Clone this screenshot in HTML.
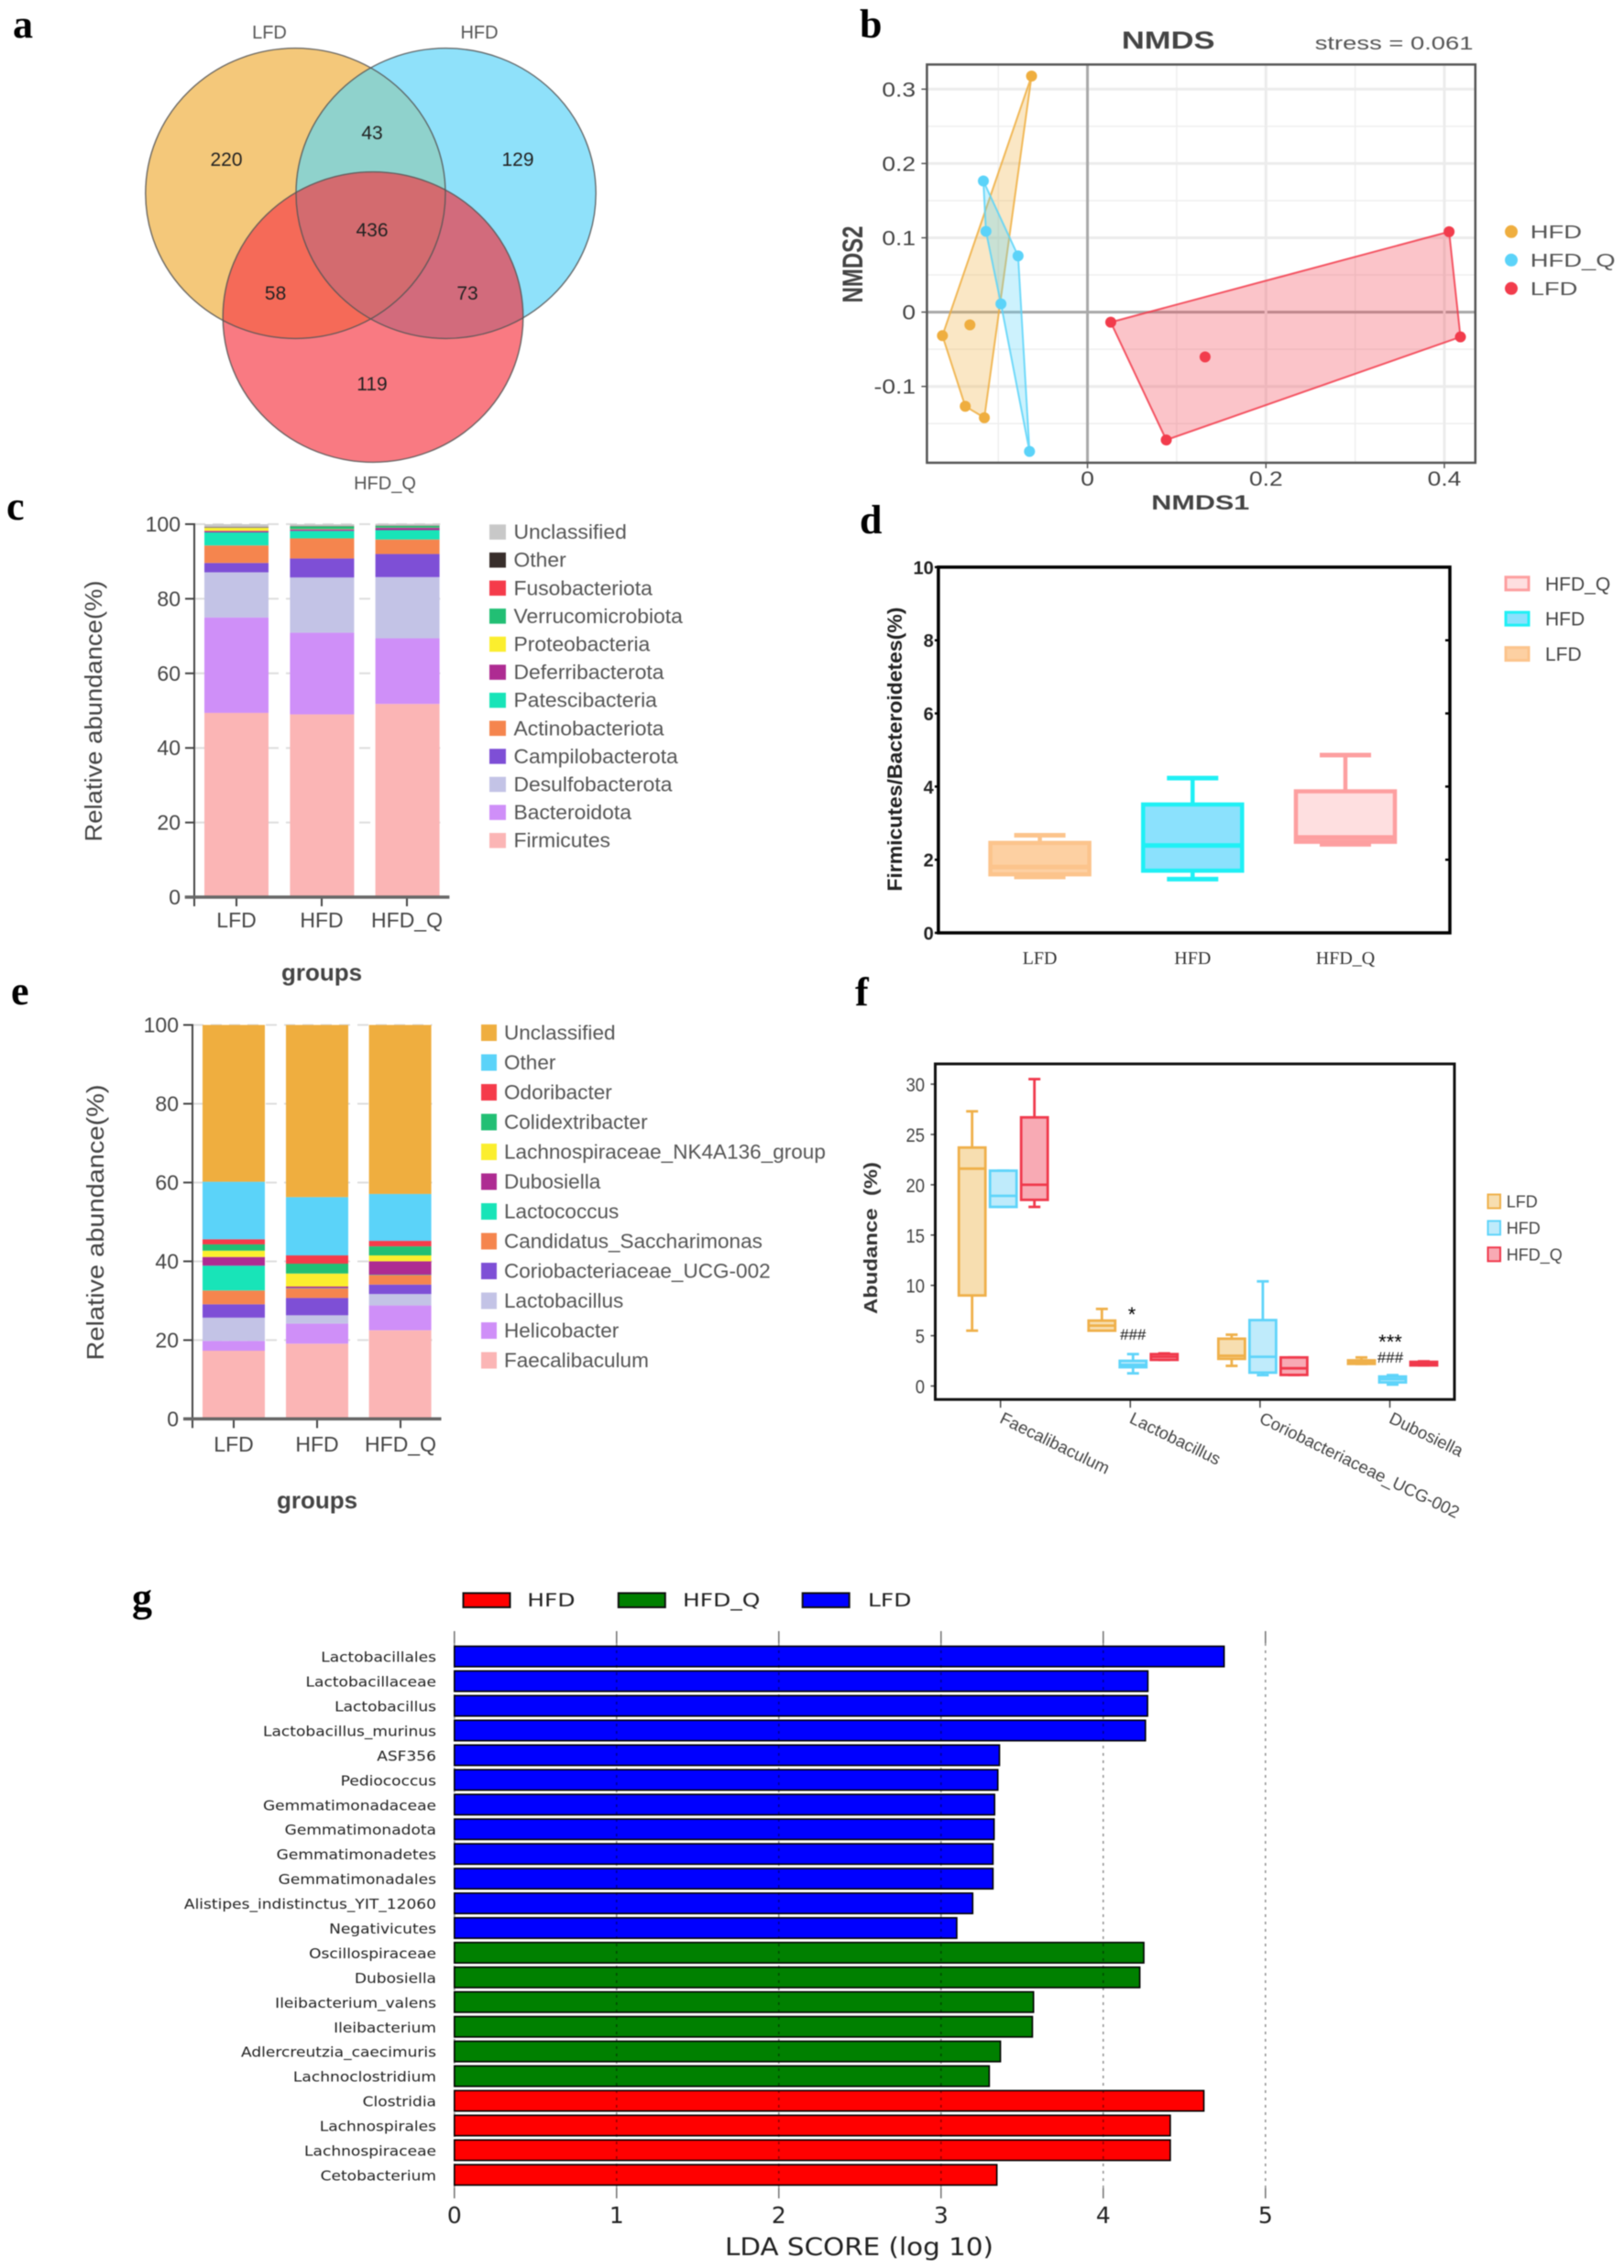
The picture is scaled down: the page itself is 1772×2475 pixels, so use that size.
<!DOCTYPE html>
<html lang="en">
<head>
<meta charset="utf-8">
<title>Gut microbiota figure</title>
<style>
html,body{margin:0;padding:0;background:#fff;}
svg{display:block;filter:blur(0.5px);}
text{font-family:"Liberation Sans",sans-serif;white-space:pre;}
.letter{font-family:"Liberation Serif",serif;font-weight:bold;font-size:44px;fill:#000;}
.venn{font-size:21px;fill:#222;text-anchor:middle;}
.vennh{font-size:20px;fill:#555;text-anchor:middle;}
.axt{font-size:26px;fill:#444;text-anchor:middle;}
.bt{font-weight:bold;}
</style>
</head>
<body>
<svg id="fig" xmlns="http://www.w3.org/2000/svg" width="1772" height="2475" viewBox="0 0 1772 2475">
<rect width="1772" height="2475" fill="#fff"/>
<defs>
<clipPath id="cl"><ellipse cx="322.4" cy="211" rx="163.6" ry="158.4"/></clipPath>
<clipPath id="ch"><ellipse cx="486.6" cy="211" rx="163.6" ry="158.4"/></clipPath>
<clipPath id="cq"><ellipse cx="407" cy="346" rx="163.8" ry="158.4"/></clipPath>
</defs>

<text class="letter" x="14" y="41">a</text>
<text class="letter" x="938" y="41">b</text>
<text class="letter" x="7" y="567">c</text>
<text class="letter" x="938" y="582">d</text>
<text class="letter" x="12" y="1096">e</text>
<text class="letter" x="933" y="1097">f</text>
<text class="letter" x="144" y="1758">g</text>

<g id="venn">
<ellipse cx="322.4" cy="211" rx="163.6" ry="158.4" fill="#f4c87a"/>
<ellipse cx="486.6" cy="211" rx="163.6" ry="158.4" fill="#8fe1fa"/>
<ellipse cx="407" cy="346" rx="163.8" ry="158.4" fill="#f97a82"/>
<g clip-path="url(#cl)"><ellipse cx="486.6" cy="211" rx="163.6" ry="158.4" fill="#8fd2cc"/></g>
<g clip-path="url(#cl)"><ellipse cx="407" cy="346" rx="163.8" ry="158.4" fill="#f56a58"/></g>
<g clip-path="url(#ch)"><ellipse cx="407" cy="346" rx="163.8" ry="158.4" fill="#d26b7c"/></g>
<g clip-path="url(#cl)"><g clip-path="url(#ch)"><ellipse cx="407" cy="346" rx="163.8" ry="158.4" fill="#d36b6f"/></g></g>
<g fill="none" stroke="#555" stroke-width="1.4" stroke-opacity="0.85">
<ellipse cx="322.4" cy="211" rx="163.6" ry="158.4"/><ellipse cx="486.6" cy="211" rx="163.6" ry="158.4"/><ellipse cx="407" cy="346" rx="163.8" ry="158.4"/>
</g>
<text class="vennh" x="294" y="42">LFD</text>
<text class="vennh" x="523" y="42">HFD</text>
<text class="vennh" x="420" y="534">HFD_Q</text>
<text class="venn" x="247" y="181">220</text>
<text class="venn" x="565" y="181">129</text>
<text class="venn" x="406" y="152">43</text>
<text class="venn" x="406" y="258">436</text>
<text class="venn" x="300.6" y="327">58</text>
<text class="venn" x="510" y="327">73</text>
<text class="venn" x="406" y="426">119</text>
</g>

<g id="nmds">
<text transform="translate(1274.7 53) scale(1.28 1)" font-size="27" font-weight="bold" fill="#444" text-anchor="middle">NMDS</text>
<text transform="translate(1607.5 54) scale(1.37 1)" font-size="20" fill="#555" text-anchor="end">stress = 0.061</text>
<text transform="translate(1309.8 556) scale(1.39 1)" font-size="22" font-weight="bold" fill="#444" text-anchor="middle">NMDS1</text>
<text transform="translate(941 288.5) scale(1.3 1) rotate(-90)" font-size="24" font-weight="bold" fill="#444" text-anchor="middle">NMDS2</text>
</g>

<g id="phylum">
<text class="axt" transform="translate(111 776) rotate(-90)" textLength="285" lengthAdjust="spacingAndGlyphs">Relative abundance(%)</text>
<text class="axt bt" x="351" y="1070">groups</text>
</g>

<g id="ratio">
<text transform="translate(984 817.6) rotate(-90)" font-size="22" font-weight="bold" fill="#222" text-anchor="middle" textLength="310" lengthAdjust="spacingAndGlyphs">Firmicutes/Bacteroidetes(%)</text>
</g>

<g id="genus">
<text class="axt" transform="translate(113 1334) rotate(-90)" textLength="301" lengthAdjust="spacingAndGlyphs">Relative abundance(%)</text>
<text class="axt bt" x="346" y="1646">groups</text>
</g>

<g id="abund">
<text transform="translate(957 1351) rotate(-90)" font-size="20" font-weight="bold" fill="#333" text-anchor="middle" textLength="166" lengthAdjust="spacingAndGlyphs">Abudance  (%)</text>
<text x="1235" y="1442" font-size="22" text-anchor="middle" fill="#000">*</text>
<text x="1236.3" y="1462" font-size="17" text-anchor="middle" fill="#111">###</text>
<text x="1517" y="1472" font-size="22" text-anchor="middle" fill="#000">***</text>
<text x="1517" y="1487" font-size="17" text-anchor="middle" fill="#111">###</text>
</g>

<g id="lda">
<text x="791" y="2461" style="font-family:'DejaVu Sans',sans-serif" font-size="27" fill="#222" textLength="293" lengthAdjust="spacingAndGlyphs">LDA SCORE (log 10)</text>
</g>
</svg>

<script>
// ---------- Panel b: NMDS points (first hullCount points form the polygon) ----------
const nmdsHfdX = [-0.0627, -0.1626, -0.137, -0.1156, -0.1318];
const nmdsHfdY = [0.3176, -0.0317, -0.1267, -0.1421, -0.0172];
const nmdsQX = [-0.1167, -0.0778, -0.065, -0.097, -0.1138];
const nmdsQY = [0.1764, 0.0757, -0.1874, 0.011, 0.1087];
const nmdsLfdX = [0.0261, 0.4053, 0.418, 0.0883, 0.1318];
const nmdsLfdY = [-0.0136, 0.1082, -0.0334, -0.172, -0.0603];
const nmdsXTicks = [0, 0.2, 0.4];
const nmdsYTicks = [-0.1, 0, 0.1, 0.2, 0.3];
const nmdsGroups = ['HFD', 'HFD_Q', 'LFD'];

// ---------- Panel c: phyla, bottom to top ----------
const stackGroups = ['LFD', 'HFD', 'HFD_Q'];
const stackTicks = [0, 20, 40, 60, 80, 100];
const phylumNames = ['Firmicutes','Bacteroidota','Desulfobacterota','Campilobacterota','Actinobacteriota','Patescibacteria','Deferribacterota','Proteobacteria','Verrucomicrobiota','Fusobacteriota','Other','Unclassified'];
const phylumLFD = [49.4,25.6,12.1,2.5,4.7,3.5,0.4,0.8,0.1,0.1,0.1,0.7];
const phylumHFD = [49,21.9,14.8,5.1,5.4,2,0.4,0.1,0.7,0.05,0.05,0.5];
const phylumHFDQ = [51.8,17.6,16.4,6.2,3.9,2.5,0.6,0.05,0.5,0.05,0.05,0.45];

// ---------- Panel d: [low, q1, median, q3, high] ----------
const ratioGroups = ['LFD', 'HFD', 'HFD_Q'];
const ratioTicks = [0, 2, 4, 6, 8, 10];
const ratioLFD = [1.53, 1.6, 1.8, 2.46, 2.67];
const ratioHFD = [1.47, 1.7, 2.39, 3.51, 4.23];
const ratioHFDQ = [2.42, 2.49, 2.61, 3.87, 4.86];

// ---------- Panel e: genera, bottom to top ----------
const genusNames = ['Faecalibaculum','Helicobacter','Lactobacillus','Coriobacteriaceae_UCG-002','Candidatus_Saccharimonas','Lactococcus','Dubosiella','Lachnospiraceae_NK4A136_group','Colidextribacter','Odoribacter','Other','Unclassified'];
const genusLFD = [17.3,2.5,5.9,3.4,3.5,6.3,2.2,1.6,1.6,1.3,14.6,39.8];
const genusHFD = [19.1,5.1,2.1,4.4,2.4,0.1,0.4,3.3,2.5,2.1,14.8,43.7];
const genusHFDQ = [22.5,6.3,2.9,2.4,2.4,0.1,3.4,1.5,2.3,1.4,11.9,42.9];

// ---------- Panel f: per category [low, q1, median, q3, high] ----------
const abundCats = ['Faecalibaculum','Lactobacillus','Coriobacteriaceae_UCG-002','Dubosiella'];
const abundTicks = [0, 5, 10, 15, 20, 25, 30];
const abundGroups = ['LFD', 'HFD', 'HFD_Q'];
const abundLFD = [[5.5,9,21.6,23.7,27.3],[5.5,5.5,6,6.5,7.66],[2,2.7,3,4.7,5.1],[2.2,2.2,2.37,2.55,2.84]];
const abundHFD = [[17.8,17.8,18.9,21.4,21.4],[1.26,1.87,2.1,2.5,3.17],[1.08,1.33,2.9,6.55,10.4],[0.14,0.36,0.68,0.94,1.08]];
const abundHFDQ = [[17.8,18.5,20,26.7,30.5],[2.6,2.6,2.9,3.17,3.24],[1.1,1.1,1.76,2.84,2.84],[2.05,2.05,2.2,2.4,2.45]];

// ---------- Panel g ----------
const ldaNames = ['Lactobacillales','Lactobacillaceae','Lactobacillus','Lactobacillus_murinus','ASF356','Pediococcus','Gemmatimonadaceae','Gemmatimonadota','Gemmatimonadetes','Gemmatimonadales','Alistipes_indistinctus_YIT_12060','Negativicutes','Oscillospiraceae','Dubosiella','Ileibacterium_valens','Ileibacterium','Adlercreutzia_caecimuris','Lachnoclostridium','Clostridia','Lachnospirales','Lachnospiraceae','Cetobacterium'];
const ldaValues = [4.745,4.275,4.273,4.26,3.36,3.35,3.33,3.327,3.32,3.32,3.195,3.097,4.25,4.225,3.57,3.563,3.366,3.297,4.62,4.413,4.413,3.344];
const ldaClasses = ['LFD','LFD','LFD','LFD','LFD','LFD','LFD','LFD','LFD','LFD','LFD','LFD','HFD_Q','HFD_Q','HFD_Q','HFD_Q','HFD_Q','HFD_Q','HFD','HFD','HFD','HFD'];
const ldaTicks = [0, 1, 2, 3, 4, 5];
const ldaLegend = ['HFD', 'HFD_Q', 'LFD'];

// ---------- styling ----------
const NS = 'http://www.w3.org/2000/svg';
const phylumColors = ['#fbb5b5','#cf8ff8','#c3c3e6','#7e4fd6','#f5854e','#18e4b8','#ae2b92','#fbee2e','#22bf74','#f53b4a','#382e2b','#c8c8c8'];
const genusColors = ['#fbb5b5','#cf8ff8','#c3c3e6','#7e4fd6','#f5854e','#18e4b8','#ae2b92','#fbee2e','#22bf74','#f53b4a','#5bd3f9','#efae3f'];
const nmdsColors = {HFD:'#efae3f', HFD_Q:'#5bd3f9', LFD:'#f23c4c'};
const ldaColors = {HFD:'#ff0000', HFD_Q:'#008000', LFD:'#0000ff'};

function mk(parent, tag, attrs) {
  const n = document.createElementNS(NS, tag);
  for (const k in attrs) n.setAttribute(k, attrs[k]);
  parent.appendChild(n);
  return n;
}
function label(parent, x, y, str, size, o) {
  o = o || {};
  const sx = o.sx || 1;
  let tr = 'translate(' + x + ' ' + y + ') scale(' + sx + ' 1)';
  if (o.rot) tr += ' rotate(' + o.rot + ')';
  const n = mk(parent, 'text', {transform: tr, 'font-size': size, fill: o.fill || '#444', 'text-anchor': o.anchor || 'start', 'font-weight': o.weight || 'normal'});
  if (o.family) n.style.fontFamily = o.family;
  n.textContent = str;
  return n;
}
function line(parent, x1, y1, x2, y2, stroke, w) {
  return mk(parent, 'line', {x1: x1, y1: y1, x2: x2, y2: y2, stroke: stroke, 'stroke-width': w});
}

// ---------- Panel b ----------
(function () {
  const g = document.getElementById('nmds');
  const L = 1011.4, R = 1609.8, T = 70.4, B = 505;
  const x = v => 1186.6 + 973.5 * v;
  const y = v => 340.6 - 811 * v;
  for (const v of [-0.15, -0.05, 0.05, 0.15, 0.25]) {
    const el = line(g, L, y(v), R, y(v), '#efefef', 1.5);
    
    
  }
  for (const v of [-0.1, 0.1, 0.3]) {
    const el = line(g, x(v), T, x(v), B, '#efefef', 1.5);
    
    
  }
  for (const v of nmdsYTicks) {
    const gl = line(g, L, y(v), R, y(v), v === 0 ? '#a8a8a8' : '#ececec', 3);
    
    
    const tk = line(g, L - 6, y(v), L, y(v), '#555', 1.5);
    
    
    const tl = label(g, 999, y(v) + 8, String(v), 22, {anchor: 'end', sx: 1.2, fill: '#444'});
    
    
  }
  for (const v of nmdsXTicks) {
    const gl = line(g, x(v), T, x(v), B, v === 0 ? '#a8a8a8' : '#ececec', 3);
    
    
    const tk = line(g, x(v), B, x(v), B + 6, '#555', 1.5);
    
    
    const tl = label(g, x(v), 530, String(v), 22, {anchor: 'middle', sx: 1.2, fill: '#444'});
    
    
  }
  const frame = mk(g, 'rect', {x: L, y: T, width: R - L, height: B - T, fill: 'none', stroke: '#555', 'stroke-width': 2.5});
  
  
  const sets = [
    ['HFD', nmdsHfdX, nmdsHfdY, 4],
    ['HFD_Q', nmdsQX, nmdsQY, 5],
    ['LFD', nmdsLfdX, nmdsLfdY, 4]
  ];
  for (const s of sets) {
    const c = nmdsColors[s[0]];
    const pts = s[1].slice(0, s[3]).map((v, i) => x(v) + ',' + y(s[2][i])).join(' ');
    const poly = mk(g, 'polygon', {points: pts, fill: c, 'fill-opacity': 0.3, stroke: c, 'stroke-width': 2, 'stroke-opacity': 0.85});
    
    
  }
  for (const s of sets) {
    s[1].forEach((v, i) => {
      const pt = mk(g, 'circle', {cx: x(v), cy: y(s[2][i]), r: 6, fill: nmdsColors[s[0]]});
      
      
    });
  }
  nmdsGroups.forEach((n, i) => {
    const d = mk(g, 'circle', {cx: 1649, cy: 252.8 + 31 * i, r: 7, fill: nmdsColors[n]});
    
    
    const t = label(g, 1669.7, 260 + 31 * i, n, 20, {sx: 1.37, fill: '#555'});
    
    
  });
})();

// ---------- Panels c, e ----------
function stacked(id, prefix, cfg, names, colors, rows) {
  const g = document.getElementById(id);
  const y = v => cfg.y0 - cfg.k * v;
  for (const v of stackTicks) {
    if (v > 0) {
      const d = line(g, cfg.axis, y(v), cfg.xEnd - 10, y(v), '#ddd', 2);
      d.setAttribute('stroke-dasharray', '12 8');
      
      
    }
  }
  rows.forEach((vals, gi) => {
    let acc = 0;
    vals.forEach((v, si) => {
      const r = mk(g, 'rect', {x: cfg.bar[gi], y: y(acc + v), width: cfg.barW, height: cfg.k * v, fill: colors[si]});
      
      
      acc += v;
    });
    const tk = line(g, cfg.tick[gi], cfg.y0, cfg.tick[gi], cfg.y0 + 10, '#444', 2);
    
    
    const tl = label(g, cfg.tick[gi], cfg.labelY, stackGroups[gi], 23, {anchor: 'middle', fill: '#444'});
    
    
  });
  for (const v of stackTicks) {
    const tk = line(g, cfg.axis - 10, y(v), cfg.axis, y(v), '#444', 2);
    
    
    const tl = label(g, cfg.axis - 15, y(v) + 8, String(v), 23, {anchor: 'end', fill: '#444'});
    
    
  }
  const ya = line(g, cfg.axis, y(100) - 1, cfg.axis, cfg.y0 + 10, '#444', 2);
  
  
  const xa = line(g, cfg.xStart, cfg.y0, cfg.xEnd, cfg.y0, '#666', 3.5);
  
  
  names.forEach((n, i) => {
    const row = names.length - 1 - i;
    const cy = cfg.legY + cfg.legDy * row;
    const sw = mk(g, 'rect', {x: cfg.legX, y: cy - cfg.legH / 2, width: cfg.legW, height: cfg.legH, fill: colors[i]});
    
    
    const t = label(g, cfg.legT, cy + 7.5, n, 22, {fill: '#555', sx: cfg.legSx});
    
    
  });
}
stacked('phylum', 'phylum', {y0: 979, k: 4.07, axis: 212, xStart: 201.7, xEnd: 490.4, bar: [223, 316.4, 409.6], barW: 70, tick: [258, 351, 444], labelY: 1012, legX: 534, legW: 18, legH: 16.5, legT: 560.5, legY: 580.6, legDy: 30.6, legSx: 1.04}, phylumNames, phylumColors, [phylumLFD, phylumHFD, phylumHFDQ]);
stacked('genus', 'genus', {y0: 1548.4, k: 4.299, axis: 210, xStart: 200, xEnd: 481.5, bar: [221, 312, 402.6], barW: 68, tick: [255, 346, 437], labelY: 1584, legX: 525, legW: 17, legH: 18, legT: 550, legY: 1127, legDy: 32.5, legSx: 1.025}, genusNames, genusColors, [genusLFD, genusHFD, genusHFDQ]);

// ---------- box drawing ----------
function box(g, prefix, cx, w, capW, st, y, s, sw, capSw) {
  const stem = line(g, cx, y(st[3]), cx, y(st[4]), s.stroke, sw);
  
  
  const stem2 = line(g, cx, y(st[1]), cx, y(st[0]), s.stroke, sw);
  
  
  const capA = line(g, cx - capW / 2, y(st[4]), cx + capW / 2, y(st[4]), s.stroke, capSw);
  
  
  const capB = line(g, cx - capW / 2, y(st[0]), cx + capW / 2, y(st[0]), s.stroke, capSw);
  
  
  const r = mk(g, 'rect', {x: cx - w / 2, y: y(st[3]), width: w, height: y(st[1]) - y(st[3]), fill: s.fill, stroke: s.stroke, 'stroke-width': sw});
  
  
  const m = line(g, cx - w / 2, y(st[2]), cx + w / 2, y(st[2]), s.stroke, capSw);
  
  
}

// ---------- Panel d ----------
(function () {
  const g = document.getElementById('ratio');
  const L = 1023.9, R = 1582, T = 618.9, B = 1018;
  const y = v => B - 39.91 * v;
  const styles = [{stroke: '#fcc48c', fill: '#fdd0a2'}, {stroke: '#1ff0f5', fill: '#8be1fd'}, {stroke: '#fd9fa0', fill: '#fedfe0'}];
  const cx = [1134.6, 1301.3, 1468];
  [ratioLFD, ratioHFD, ratioHFDQ].forEach((st, i) => {
    box(g, 'ratio-' + ratioGroups[i].toLowerCase(), cx[i], 108, 56, st, y, styles[i], 4.5, 5);
    const t = label(g, cx[i], 1052, ratioGroups[i], 20, {anchor: 'middle', family: '"Liberation Serif",serif', fill: '#333'});
    
    
  });
  for (const v of ratioTicks) {
    const a = line(g, L - 4, y(v), L, y(v), '#000', 2.5);
    
    
    const b = line(g, R - 5, y(v), R, y(v), '#000', 2.5);
    
    
    const t = label(g, 1018.8, y(v) + 7.5, String(v), 20, {anchor: 'end', weight: 'bold', fill: '#222'});
    
    
  }
  const f = mk(g, 'rect', {x: L, y: T, width: R - L, height: B - T, fill: 'none', stroke: '#000', 'stroke-width': 3.5});
  
  
  const order = [2, 1, 0];
  order.forEach((gi, row) => {
    const cy = 636.8 + 38.4 * row;
    const sw = mk(g, 'rect', {x: 1643, y: cy - 7, width: 25, height: 14, fill: styles[gi].fill, stroke: styles[gi].stroke, 'stroke-width': 3});
    
    
    const t = label(g, 1686, cy + 7.5, ratioGroups[gi], 21, {fill: '#444'});
    
    
  });
})();

// ---------- Panel f ----------
(function () {
  const g = document.getElementById('abund');
  const L = 1020.5, R = 1587, T = 1161, B = 1527.2;
  const y = v => 1512.5 - 10.98 * v;
  const cat = i => 1091.7 + 141.6 * i;
  const offs = [-31, 3, 37];
  const styles = [{stroke: '#efb04a', fill: '#f7deb0'}, {stroke: '#5fd4fa', fill: '#bfebfb'}, {stroke: '#f0394c', fill: '#f8aab4'}];
  [abundLFD, abundHFD, abundHFDQ].forEach((rows, gi) => {
    rows.forEach((st, ci) => {
      box(g, 'abundance-' + abundGroups[gi].toLowerCase(), cat(ci) + offs[gi], 29, 13, st, y, styles[gi], 2.8, 2.8);
    });
  });
  for (const v of abundTicks) {
    const a = line(g, L - 5, y(v), L, y(v), '#444', 1.5);
    
    
    const t = label(g, 1009, y(v) + 8, String(v), 21, {anchor: 'end', sx: 0.88, fill: '#444'});
    
    
  }
  abundCats.forEach((c, i) => {
    const a = line(g, cat(i), B, cat(i), B + 9, '#444', 1.5);
    
    
    const t = label(g, cat(i) - 2, 1552, c, 18.6, {rot: 26, fill: '#444'});
    
    
  });
  const f = mk(g, 'rect', {x: L, y: T, width: R - L, height: B - T, fill: 'none', stroke: '#111', 'stroke-width': 3});
  
  
  abundGroups.forEach((n, i) => {
    const cy = 1311 + 28.9 * i;
    const sw = mk(g, 'rect', {x: 1623.5, y: cy - 7.5, width: 13.5, height: 15, fill: styles[i].fill, stroke: styles[i].stroke, 'stroke-width': 2});
    
    
    const t = label(g, 1643.7, cy + 6.5, n, 18, {fill: '#444'});
    
    
  });
})();

// ---------- Panel g ----------
(function () {
  const g = document.getElementById('lda');
  const dj = '"DejaVu Sans",sans-serif';
  const x = v => 495.8 + 177 * v;
  const barY = i => 1796.5 + 26.94 * i;
  const H = 22.3;
  ldaNames.forEach((n, i) => {
    const r = mk(g, 'rect', {x: x(0), y: barY(i), width: x(ldaValues[i]) - x(0), height: H, fill: ldaColors[ldaClasses[i]], stroke: '#000', 'stroke-width': 1.6});
    
    
    const t = label(g, 476, barY(i) + H / 2 + 6, n, 15.5, {anchor: 'end', sx: 1.1, family: dj, fill: '#222'});
    
    
  });
  for (const v of ldaTicks) {
    const d = line(g, x(v), 1793, x(v), 2388, '#000', 1.6);
    d.setAttribute('stroke-dasharray', '3 5');
    d.setAttribute('stroke-opacity', '0.42');
    
    
    const a = line(g, x(v), 1780, x(v), 1793, '#777', 1.6);
    
    
    const b = line(g, x(v), 2388, x(v), 2399, '#777', 1.6);
    
    
    const t = label(g, x(v), 2426, String(v), 25, {anchor: 'middle', family: dj, fill: '#222'});
    
    
  }
  const sx0 = [505.5, 674.8, 875.7];
  const tx0 = [575.3, 745, 947];
  ldaLegend.forEach((n, i) => {
    const sw = mk(g, 'rect', {x: sx0[i], y: 1738.5, width: 51, height: 15.5, fill: ldaColors[n], stroke: '#111', 'stroke-width': 2});
    
    
    const t = label(g, tx0[i], 1753, n, 19.5, {sx: 1.28, family: dj, fill: '#222'});
    
    
  });
})();
</script>
</body>
</html>
